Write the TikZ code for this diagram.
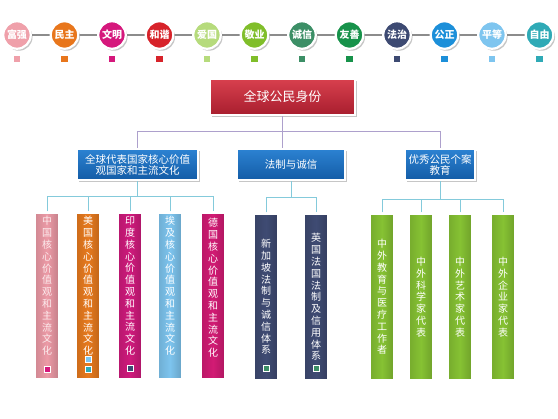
\documentclass[tikz,border=0pt]{standalone}
\usepackage{fontspec}
\setmainfont{Noto Sans CJK SC}
\usetikzlibrary{positioning,shadows,backgrounds}

\definecolor{cFuqiang}{HTML}{EFA0AA}
\definecolor{cMinzhu}{HTML}{E8761C}
\definecolor{cWenming}{HTML}{D5187C}
\definecolor{cHexie}{HTML}{D7232A}
\definecolor{cAiguo}{HTML}{B6DB7C}
\definecolor{cJingye}{HTML}{80BE2A}
\definecolor{cChengxin}{HTML}{3C8F66}
\definecolor{cYoushan}{HTML}{17924A}
\definecolor{cFazhi}{HTML}{3D4A72}
\definecolor{cGongzheng}{HTML}{1C8FD9}
\definecolor{cPingdeng}{HTML}{7EC5EF}
\definecolor{cZiyou}{HTML}{2FAAB6}
\definecolor{rootTop}{HTML}{D8404E}
\definecolor{rootBot}{HTML}{A81E2E}
\definecolor{headTop}{HTML}{2C82D2}
\definecolor{headBot}{HTML}{135CA6}
\definecolor{topLine}{HTML}{ADA0CC}
\definecolor{subLine}{HTML}{84CADB}
\definecolor{chainGrey}{HTML}{8C8C8C}
\definecolor{china}{HTML}{EC9AA6}
\definecolor{usa}{HTML}{E77A1E}
\definecolor{india}{HTML}{CF1A7C}
\definecolor{egypt}{HTML}{7DC4EE}
\definecolor{germany}{HTML}{D21B74}
\definecolor{lawBar}{HTML}{3F4B73}
\definecolor{eduBar}{HTML}{86C233}

\begin{document}
\begin{tikzpicture}[
  x=1pt, y=-1pt,
  boxshadow/.style={drop shadow={shadow xshift=1.8pt, shadow yshift=-2pt, opacity=0.45}},
  valuedot/.style={circle, draw=white, line width=2.2pt, fill=#1, minimum size=27.5pt, inner sep=0pt,
                   text=white, font=\fontsize{10}{10}\selectfont\bfseries, boxshadow},
  swatch/.style={rectangle, fill=#1, minimum size=6.5pt, inner sep=0pt},
  rootbox/.style={rectangle, draw=white, line width=2.2pt, top color=rootTop, bottom color=rootBot,
                  minimum width=145pt, minimum height=36pt, text=white,
                  font=\fontsize{13}{13}\selectfont, boxshadow},
  headbox/.style={rectangle, draw=white, line width=2.2pt, top color=headTop, bottom color=headBot,
                  minimum height=31pt, inner sep=1pt, align=center, text=white,
                  font=\fontsize{10.5}{11}\selectfont, boxshadow},
  bar/.style={rectangle, draw=white, line width=2.2pt, left color=#1!88!black, right color=#1!82!black,
              middle color=#1, minimum width=25pt, minimum height=167pt, inner sep=0pt,
              align=center, text=white, font=\fontsize{10}{11.8}\selectfont, boxshadow},
  vtxt/.style={align=center, inner sep=0pt, text=white, font=\fontsize{10}{11.8}\selectfont},
  inmark/.style={rectangle, draw=white, line width=0.8pt, fill=#1, minimum size=6pt, inner sep=0pt},
  toplink/.style={draw=topLine, line width=0.9pt},
  sublink/.style={draw=subLine, line width=0.9pt},
  chainline/.style={draw=chainGrey, line width=1.8pt},
]
\useasboundingbox (0,0) rectangle (558,419);

% core values row
\begin{scope}[on grid, node distance=47.5pt]
\node[valuedot=cFuqiang] (fq) at (17,35) {富强};
\node[valuedot=cMinzhu, right=of fq]     (mz)  {民主};
\node[valuedot=cWenming, right=of mz]    (wm)  {文明};
\node[valuedot=cHexie, right=of wm]      (hx)  {和谐};
\node[valuedot=cAiguo, right=of hx]      (ag)  {爱国};
\node[valuedot=cJingye, right=of ag]     (jye) {敬业};
\node[valuedot=cChengxin, right=of jye]  (cx)  {诚信};
\node[valuedot=cYoushan, right=of cx]    (ysh) {友善};
\node[valuedot=cFazhi, right=of ysh]     (fz)  {法治};
\node[valuedot=cGongzheng, right=of fz]  (gz)  {公正};
\node[valuedot=cPingdeng, right=of gz]   (pd)  {平等};
\node[valuedot=cZiyou, right=of pd]      (zy)  {自由};

\node[swatch=cFuqiang, below=24pt of fq]    (fqs)  {};
\node[swatch=cMinzhu, below=24pt of mz]     (mzs)  {};
\node[swatch=cWenming, below=24pt of wm]    (wms)  {};
\node[swatch=cHexie, below=24pt of hx]      (hxs)  {};
\node[swatch=cAiguo, below=24pt of ag]      (ags)  {};
\node[swatch=cJingye, below=24pt of jye]    (jyes) {};
\node[swatch=cChengxin, below=24pt of cx]   (cxs)  {};
\node[swatch=cYoushan, below=24pt of ysh]   (yshs) {};
\node[swatch=cFazhi, below=24pt of fz]      (fzs)  {};
\node[swatch=cGongzheng, below=24pt of gz]  (gzs)  {};
\node[swatch=cPingdeng, below=24pt of pd]   (pds)  {};
\node[swatch=cZiyou, below=24pt of zy]      (zys)  {};
\end{scope}

\begin{scope}[on background layer]
\draw[chainline] (fq) -- (zy);
\end{scope}

% tree
\node[rootbox] (root) at (282.5,97) {全球公民身份};

\node[headbox, minimum width=121pt] (b1) at (137.5,164.5) {全球代表国家核心价值\\观国家和主流文化};
\node[headbox, minimum width=108pt] (b2) at (291,164.5)   {法制与诚信};
\node[headbox, minimum width=70pt]  (b3) at (440,164.5)   {优秀公民个案\\教育};

\node[bar=china]   (cn)  at (47,296)  {};
\node[bar=usa]     (us)  at (88,296)  {};
\node[bar=india]   (ind) at (130,296) {};
\node[bar=egypt]   (eg)  at (170,296) {};
\node[bar=germany] (de)  at (213,296) {};

\node[vtxt, text=white!80!china] (cnt) at ([yshift=10pt]cn.center) {中\\国\\核\\心\\价\\值\\观\\和\\主\\流\\文\\化};
\node[vtxt] (ust)  at ([yshift=10pt]us.center)  {美\\国\\核\\心\\价\\值\\观\\和\\主\\流\\文\\化};
\node[vtxt] (indt) at ([yshift=10pt]ind.center) {印\\度\\核\\心\\价\\值\\观\\和\\主\\流\\文\\化};
\node[vtxt] (egt)  at ([yshift=10pt]eg.center)  {埃\\及\\核\\心\\价\\值\\观\\和\\主\\流\\文\\化};
\node[vtxt] (det)  at ([yshift=8pt]de.center)   {德\\国\\核\\心\\价\\值\\观\\和\\主\\流\\文\\化};

\node[inmark=cWenming]  (cnm)  at (47,369)  {};
\node[inmark=cPingdeng] (usm1) at (88,359)  {};
\node[inmark=cZiyou]    (usm2) at (88,369)  {};
\node[inmark=cFazhi]    (indm) at (130,368) {};

\node[bar=lawBar] (sg) at (266,297) {新\\加\\坡\\法\\制\\与\\诚\\信\\体\\系};
\node[bar=lawBar] (uk) at (316,297) {英\\国\\法\\国\\法\\制\\及\\信\\用\\体\\系};
\node[inmark=cChengxin] (sgm) at (266,368) {};
\node[inmark=cChengxin] (ukm) at (316,368) {};

\node[bar=eduBar] (edu) at (382,297) {中\\外\\教\\育\\与\\医\\疗\\工\\作\\者};
\node[bar=eduBar] (sci) at (421,297) {中\\外\\科\\学\\家\\代\\表};
\node[bar=eduBar] (art) at (460,297) {中\\外\\艺\\术\\家\\代\\表};
\node[bar=eduBar] (biz) at (503,297) {中\\外\\企\\业\\家\\代\\表};

\coordinate (rh) at ([yshift=-15pt]root.south);
\coordinate (h1) at ([yshift=-15pt]b1.south);
\coordinate (h2) at ([yshift=-16pt]b2.south);
\coordinate (h3) at ([yshift=-18pt]b3.south);

\draw[toplink] (b1) |- (rh) -| (b3);
\draw[toplink] (root) -- (root |- b2.north);

\draw[sublink] (b1) -- (h1);
\draw[sublink] (cn) |- (h1) -| (de);
\draw[sublink] (us) |- (h1);
\draw[sublink] (ind) |- (h1);
\draw[sublink] (eg) |- (h1);

\draw[sublink] (b2) -- (h2);
\draw[sublink] (sg) |- (h2) -| (uk);

\draw[sublink] (b3) -- (h3);
\draw[sublink] (edu) |- (h3) -| (biz);
\draw[sublink] (sci) |- (h3);
\draw[sublink] (art) |- (h3);

\end{tikzpicture}
\end{document}
